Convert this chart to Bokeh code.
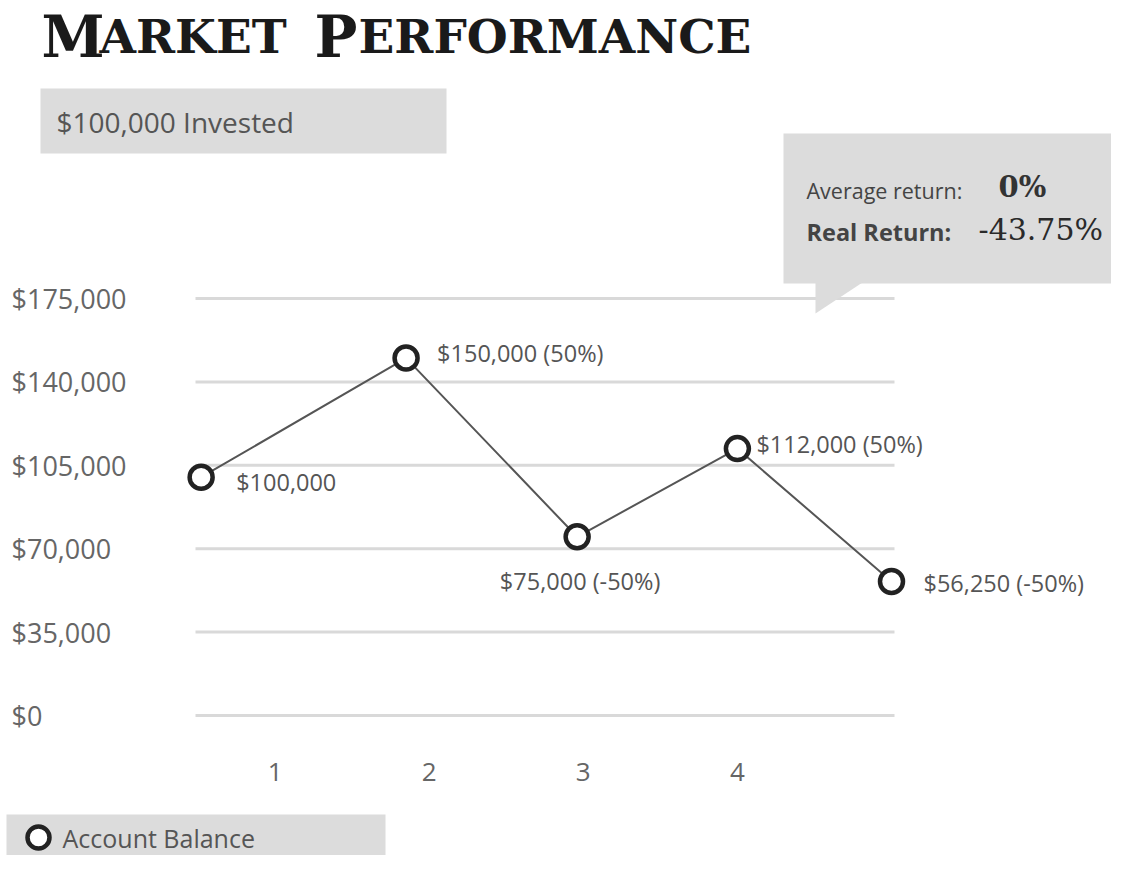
from bokeh.plotting import figure
from bokeh.models import Range1d, ColumnDataSource
from bokeh.core.properties import value
from bokeh.embed import file_html
from bokeh.resources import INLINE

# ---------------- data ----------------
period_pos = [0.52, 1.85, 2.96, 4.0, 5.0]          # x position of each balance point
balances = [100000, 150000, 75000, 112000, 56250]   # account balance
returns = [None, 50, -50, 50, -50]                  # yearly return in %
x_ticks = [1, 2, 3, 4]
x_tick_labels = ["1", "2", "3", "4"]
y_ticks = [0, 35000, 70000, 105000, 140000, 175000]
y_tick_labels = ["$0", "$35,000", "$70,000", "$105,000", "$140,000", "$175,000"]
invested_text = "$100,000 Invested"
avg_label, avg_value = "Average return:", "0%"
real_label, real_value = "Real Return:", "-43.75%"
legend_label = "Account Balance"

point_labels = []
for b, r in zip(balances, returns):
    s = f"${b:,.0f}"
    if r is not None:
        s += f" ({r}%)"
    point_labels.append(s)

# ---------------- layout helpers (picture pixels -> data) ----------------
X0, XS = 274.6, 154.1          # picture x of tick "1", px per unit
Y0, YS = 715.0, 417.0 / 175000  # picture y of $0, px per dollar


def px2x(X):
    return 1 + (X - X0) / XS


def px2y(Y):
    return (Y0 - Y) / YS


W, H = 1111, 855
p = figure(width=W, height=H, output_backend="svg", toolbar_location=None,
           x_range=Range1d(px2x(0), px2x(W)), y_range=Range1d(px2y(H), px2y(0)),
           x_axis_location=None, y_axis_location=None, min_border=0)
p.outline_line_color = None
p.grid.visible = False
p.background_fill_color = "white"

GREY_BOX = "#dcdcdc"
SANS = value("Open Sans")
SERIF = value("DejaVu Serif")

# boxes
p.quad(left=[px2x(40)], right=[px2x(446)], top=[px2y(88)], bottom=[px2y(153)],
       fill_color=GREY_BOX, line_color=None)
p.quad(left=[px2x(783)], right=[px2x(1135)], top=[px2y(133)], bottom=[px2y(283)],
       fill_color=GREY_BOX, line_color=None)
p.quad(left=[px2x(6)], right=[px2x(385)], top=[px2y(814)], bottom=[px2y(880)],
       fill_color=GREY_BOX, line_color=None)

# gridlines
gx0, gx1 = px2x(195), px2x(894)
p.segment(x0=[gx0] * len(y_ticks), x1=[gx1] * len(y_ticks), y0=y_ticks, y1=y_ticks,
          line_color="#d9d9d9", line_width=3)

# callout pointer
p.patch(x=[px2x(815), px2x(862), px2x(815)], y=[px2y(282), px2y(282), px2y(313)],
        fill_color=GREY_BOX, line_color=None)

# line + points
src = ColumnDataSource(dict(x=period_pos, y=balances, label=point_labels,
                            align=["left", "left", "center", "left", "left"],
                            dx=[35, 31, 3, 19, 32], dy=[5, -5, 44, -5, 2]))
p.line("x", "y", source=src, line_color="#555555", line_width=2)
p.scatter("x", "y", source=src, size=23, marker="circle", fill_color="white",
          line_color="#222222", line_width=4.5)
p.text("x", "y", text="label", source=src, text_align="align", x_offset="dx", y_offset="dy",
       text_baseline="middle", text_font=SANS, text_font_size="23.5px", text_color="#555555")

# y tick labels
p.text(x=[px2x(11)] * len(y_ticks), y=y_ticks, text=y_tick_labels, text_align="left",
       text_baseline="middle", text_font=SANS, text_font_size="27px", text_color="#666666")
# x tick labels
p.text(x=x_ticks, y=[px2y(771)] * len(x_ticks), text=x_tick_labels, text_align="center",
       text_baseline="middle", text_font=SANS, text_font_size="26px", text_color="#666666")

# title (small caps emulation)
title_parts = [("M", 41, "57px"), ("ARKET", 99, "47px"), ("P", 314, "57px"), ("ERFORMANCE", 358, "47px")]
for t, X, fs in title_parts:
    p.text(x=[px2x(X)], y=[px2y(36)], text=[t], text_align="left", text_baseline="alphabetic",
           text_font=SERIF, text_font_style="bold", text_font_size=fs, text_color="#1a1a1a")

# invested box text
p.text(x=[px2x(56)], y=[px2y(121)], text=[invested_text], text_align="left", text_baseline="middle",
       text_font=SANS, text_font_size="28px", text_color="#555555")

# callout texts
p.text(x=[px2x(806)], y=[px2y(190)], text=[avg_label], text_align="left", text_baseline="middle",
       text_font=SANS, text_font_size="21.5px", text_color="#444444")
p.text(x=[px2x(998)], y=[px2y(186)], text=[avg_value], text_align="left", text_baseline="middle",
       text_font=SERIF, text_font_style="bold", text_font_size="29px", text_color="#333333")
p.text(x=[px2x(806)], y=[px2y(231)], text=[real_label], text_align="left", text_baseline="middle",
       text_font=SANS, text_font_style="bold", text_font_size="23.5px", text_color="#444444")
p.text(x=[px2x(978)], y=[px2y(229)], text=[real_value], text_align="left", text_baseline="middle",
       text_font=SERIF, text_font_size="30px", text_color="#2a2a2a")

# legend
p.scatter(x=[px2x(38)], y=[px2y(837)], size=22, marker="circle", fill_color="white",
          line_color="#222222", line_width=4.5)
p.text(x=[px2x(62)], y=[px2y(837)], text=[legend_label], text_align="left", text_baseline="middle",
       text_font=SANS, text_font_size="25px", text_color="#555555")

open("out.html", "w").write(file_html(p, INLINE))
